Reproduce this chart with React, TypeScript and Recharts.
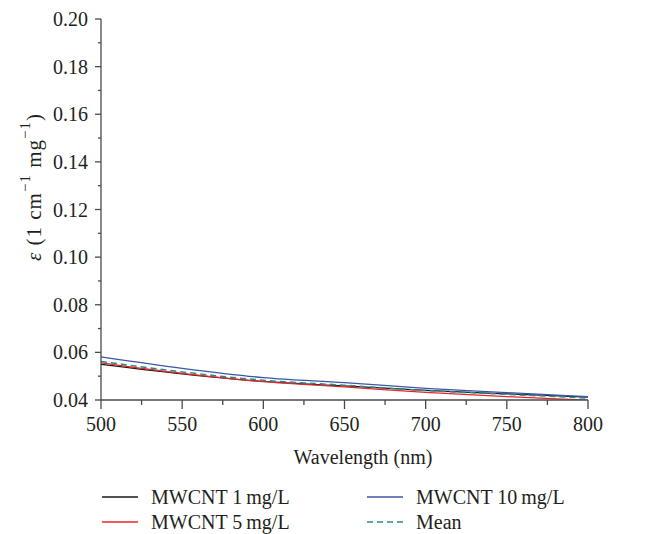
import React from "react";
import { LineChart, Line, XAxis, YAxis } from "recharts";

const wavelengths = [500, 550, 600, 650, 700, 750, 800];
const mwcnt1 = [0.055, 0.051, 0.0478, 0.0459, 0.044, 0.0426, 0.0412];
const mwcnt5 = [0.0556, 0.0512, 0.0477, 0.0455, 0.0432, 0.0414, 0.0399];
const mwcnt10 = [0.0581, 0.0533, 0.0494, 0.0473, 0.0449, 0.0431, 0.0414];
const meanVals = [0.0562, 0.0518, 0.0483, 0.0462, 0.044, 0.0424, 0.0408];

const xTicks = [500, 525, 550, 575, 600, 625, 650, 675, 700, 725, 750, 775, 800];
const yTicks = [0.04, 0.05, 0.06, 0.07, 0.08, 0.09, 0.1, 0.11, 0.12, 0.13, 0.14, 0.15, 0.16, 0.17, 0.18, 0.19, 0.2];

const data = wavelengths.map((w, i) => ({
  w,
  a: mwcnt1[i],
  b: mwcnt5[i],
  c: mwcnt10[i],
  m: meanVals[i],
}));

const FONT = "'Liberation Serif', 'DejaVu Serif', serif";
const TXT = "#231f20";
const AX = "#4a4a4a";
const FS = 20;

const Y_TS = 6;
const Y_TM = 7;
const X_TS = 9;
const X_TM = 4;

const YTick = (props: any) => {
  const { x, y, payload } = props;
  const v = payload.value as number;
  const major = Math.round(v * 100) % 2 === 0;
  const axisX = x + Y_TS + Y_TM;
  return (
    <g>
      <line x1={axisX - (major ? 6 : 3)} x2={axisX} y1={y} y2={y} stroke={AX} strokeWidth={1.3} />
      {major && (
        <text x={x} y={y} textAnchor="end" dominantBaseline="central" fontFamily={FONT} fontSize={FS} fill={TXT}>
          {v.toFixed(2)}
        </text>
      )}
    </g>
  );
};

const XTick = (props: any) => {
  const { x, y, payload } = props;
  const v = payload.value as number;
  const major = v % 50 === 0;
  const axisY = y - X_TS - X_TM;
  return (
    <g>
      <line x1={x} x2={x} y1={axisY} y2={axisY + (major ? 9 : 5)} stroke={AX} strokeWidth={1.3} />
      {major && (
        <text x={x} y={axisY + 24} textAnchor="middle" dominantBaseline="central" fontFamily={FONT} fontSize={FS} fill={TXT}>
          {v}
        </text>
      )}
    </g>
  );
};

const YLabel = () => (
  <text
    x={26}
    y={179}
    transform="rotate(-90, 26, 179)"
    textAnchor="middle"
    dominantBaseline="central"
    fontFamily={FONT}
    fontSize={21}
    letterSpacing={1}
    fill={TXT}
  >
    <tspan fontStyle="italic">ε</tspan>
    <tspan> (1 cm</tspan>
    <tspan dy={-9} fontSize={15}>−1</tspan>
    <tspan dy={9}> mg</tspan>
    <tspan dy={-9} fontSize={15}>−1</tspan>
    <tspan dy={9}>)</tspan>
  </text>
);

const XLabel = () => (
  <text x={355} y={449} textAnchor="middle" dominantBaseline="central" fontFamily={FONT} fontSize={FS} fill={TXT}>
    Wavelength (nm)
  </text>
);

const legendItems = [
  { name: "MWCNT 1\u2009mg/L", color: "#1a1a1a", dash: false, left: 94, top: 477 },
  { name: "MWCNT 5\u2009mg/L", color: "#e8262b", dash: false, left: 94, top: 502 },
  { name: "MWCNT 10\u2009mg/L", color: "#3d55a6", dash: false, left: 359, top: 477 },
  { name: "Mean", color: "#2b8a86", dash: true, left: 359, top: 502 },
];

export default function App() {
  return (
    <div style={{ position: "relative", width: 650, height: 534 }}>
      <LineChart width={650} height={534} data={data} margin={{ top: 11, right: 70, bottom: 82, left: 0 }}>
        <XAxis
          dataKey="w"
          type="number"
          domain={[500, 800]}
          ticks={xTicks}
          interval={0}
          height={60}
          tickSize={X_TS}
          tickMargin={X_TM}
          tickLine={false}
          tick={<XTick />}
          stroke={AX}
          strokeWidth={1.3}
          label={{ content: () => <XLabel /> }}
        />
        <YAxis
          type="number"
          domain={[0.04, 0.2]}
          ticks={yTicks}
          interval={0}
          width={93}
          tickSize={Y_TS}
          tickMargin={Y_TM}
          tickLine={false}
          tick={<YTick />}
          stroke={AX}
          strokeWidth={1.3}
          allowDataOverflow
          label={{ content: () => <YLabel /> }}
        />
        <Line dataKey="a" type="monotone" stroke="#1a1a1a" strokeWidth={1.3} dot={false} isAnimationActive={false} />
        <Line dataKey="b" type="monotone" stroke="#e8262b" strokeWidth={1.3} dot={false} isAnimationActive={false} />
        <Line dataKey="c" type="monotone" stroke="#3d55a6" strokeWidth={1.3} dot={false} isAnimationActive={false} />
        <Line dataKey="m" type="monotone" stroke="#2b8a86" strokeWidth={1.5} strokeDasharray="6 4" dot={false} isAnimationActive={false} />
      </LineChart>
      {legendItems.map((it) => (
        <div
          key={it.name}
          style={{
            position: "absolute",
            left: it.left,
            top: it.top,
            height: 24,
            display: "flex",
            alignItems: "center",
            fontFamily: FONT,
            fontSize: FS,
            color: TXT,
            whiteSpace: "nowrap",
          }}
        >
          <svg width={36} height={4} style={{ marginRight: 13 }}>
            <line x1={0} x2={36} y1={2} y2={2} stroke={it.color} strokeWidth={1.5} strokeDasharray={it.dash ? "6 4" : undefined} />
          </svg>
          <span>{it.name}</span>
        </div>
      ))}
    </div>
  );
}
